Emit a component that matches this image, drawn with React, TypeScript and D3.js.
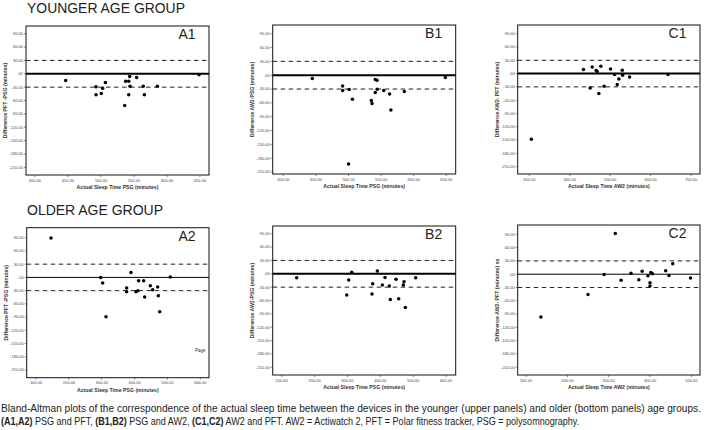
import React, { useLayoutEffect, useRef, useState } from "react";
import * as d3 from "d3";

// ---------- data ----------
const yTickValues = [90, 60, 30, 0, -30, -60, -90, -120, -150, -180, -210];
const psgTicksYoung = [400, 450, 500, 550, 600, 650];
const aw2TicksYoung = [300, 400, 500, 600, 700];
const psgTicksOld = [100, 200, 300, 400, 500, 600];
const aw2TicksOld = [100, 200, 300, 400, 500];

const a1Sleep = [446.5, 492.4, 492.4, 500.5, 502.5, 506.6, 535.9, 537.4, 542, 543.4, 544, 542, 554, 564, 565.7, 585.4, 648.5];
const a1Diff = [-15, -29.3, -47.3, -44.3, -32.3, -19.5, -71.3, -16.5, -16.5, -6, -27.8, -47.3, -8.3, -27.8, -47.3, -27.8, -2.3];

const b1Sleep = [444.5, 491, 491, 501, 506, 500, 535, 536, 541, 543.7, 541, 544, 554, 563, 565, 585.6, 648.5];
const b1Diff = [-7.2, -23.2, -33.3, -31.2, -52.2, -192.8, -55, -61.6, -9.4, -10.9, -37.7, -30.4, -33.3, -40.6, -75.4, -35.5, -5];

const c1Sleep = [305, 433.9, 450.4, 455.4, 465.3, 467.8, 471.9, 476.9, 485.1, 500.8, 510.7, 517.4, 521.5, 529.8, 530.6, 547.9, 643];
const c1Diff = [-148, 9, -32.3, 15, 6.8, 4.5, -45.1, 16.5, -28.6, 10.5, -2.3, -24.8, -12, 7.5, -3.8, -7.5, -2.3];

const a2Sleep = [145.6, 296.8, 302.8, 313, 375.9, 375.9, 389, 404.3, 410.3, 412.3, 427.5, 430.6, 447.9, 455, 470.2, 472.2, 476.3, 508.7];
const a2Diff = [89.2, 0, -12.8, -89.2, -24.2, -32.5, 11.3, -32.5, -30.2, -7.6, -7.6, -44.6, -18.9, -28, -21.9, -41.6, -77.8, 0.8];

const b2Sleep = [145.6, 297.8, 303.9, 313, 374.8, 376.9, 391.1, 406.3, 414.4, 427.6, 430.6, 447.9, 456, 470.2, 472.2, 476.3, 507.7];
const b2Diff = [-9, -47.9, -14.2, 3.7, -45.6, -22.4, 6, -25.4, -8.2, -27.7, -57.6, -12, -56.1, -25.4, -18, -75.6, -9];

const c2Sleep = [136, 250, 289, 316, 330, 354, 373, 381, 395, 400, 400, 402, 406, 438, 446, 455, 498];
const c2Diff = [-96.7, -46, -0.8, 92, -13.8, 2.3, -12.3, 6.9, -3.8, -19.2, -26.9, 3.8, 0.8, 7.7, -3.1, 23.8, -8.4];

const limitValues = [30, -30];
const meanValue = 0;

const captionLine1 =
  "Bland-Altman plots of the correspondence of the actual sleep time between the devices in the younger (upper panels) and older (bottom panels) age groups.";
const captionLine2Parts = [
  { t: "(A1,A2)", bold: true },
  { t: " PSG and PFT, ", bold: false },
  { t: "(B1,B2)", bold: true },
  { t: " PSG and AW2, ", bold: false },
  { t: "(C1,C2)", bold: true },
  { t: " AW2 and PFT. AW2 = Actiwatch 2, PFT = Polar fitness tracker, PSG = polysomnography.", bold: false },
];

// ---------- layout ----------
type Panel = {
  id: string;
  x0: number; x1: number; y0: number; y1: number;
  xDomain: [number, number];
  yDomain: [number, number];
  xTicks: number[];
  sleep: number[];
  diff: number[];
  xTitle: string;
  yTitle: string;
  meanWidth: number;
};

const panels: Panel[] = [
  { id: "A1", x0: 26, x1: 209, y0: 26, y1: 175, xDomain: [386.4, 663.6], yDomain: [-227.3, 107.3], xTicks: psgTicksYoung, sleep: a1Sleep, diff: a1Diff, xTitle: "Actual Sleep Time PSG (minutes)", yTitle: "Difference PFT -PSG (minutes)", meanWidth: 2 },
  { id: "B1", x0: 272.7, x1: 455.7, y0: 25, y1: 174, xDomain: [383.7, 664.4], yDomain: [-214.3, 108.9], xTicks: psgTicksYoung, sleep: b1Sleep, diff: b1Diff, xTitle: "Actual Sleep Time PSG (minutes)", yTitle: "Difference AW2-PSG (minutes)", meanWidth: 2 },
  { id: "C1", x0: 517.7, x1: 700, y0: 25, y1: 174, xDomain: [271.3, 722], yDomain: [-226.5, 109.6], xTicks: aw2TicksYoung, sleep: c1Sleep, diff: c1Diff, xTitle: "Actual Sleep Time AW2 (minutes)", yTitle: "Difference AW2- PFT (minutes)", meanWidth: 2 },
  { id: "A2", x0: 26.7, x1: 209, y0: 227.7, y1: 377.7, xDomain: [71.7, 626.5], yDomain: [-227.5, 112.7], xTicks: psgTicksOld, sleep: a2Sleep, diff: a2Diff, xTitle: "Actual Sleep Time PSG (minutes)", yTitle: "Difference PFT -PSG (minutes)", meanWidth: 1 },
  { id: "B2", x0: 272.7, x1: 455.7, y0: 226, y1: 375, xDomain: [72.6, 629.5], yDomain: [-227.3, 107.3], xTicks: psgTicksOld, sleep: b2Sleep, diff: b2Diff, xTitle: "Actual Sleep Time PSG (minutes)", yTitle: "Difference AW2-PSG (minutes)", meanWidth: 2 },
  { id: "C2", x0: 517.7, x1: 700, y0: 225, y1: 375, xDomain: [79.9, 521], yDomain: [-227.5, 111], xTicks: aw2TicksOld, sleep: c2Sleep, diff: c2Diff, xTitle: "Actual Sleep Time AW2 (minutes)", yTitle: "Difference AW2- PFT (minutes) ss", meanWidth: 1 },
];

const fmt = (v: number) => (v === 0 ? ".00" : v.toFixed(2));
const FONT = "Liberation Sans, Arial, sans-serif";

function PanelView({ p }: { p: Panel }) {
  const x = d3.scaleLinear().domain(p.xDomain).range([p.x0, p.x1]);
  const y = d3.scaleLinear().domain(p.yDomain).range([p.y1, p.y0]);
  const cx = (p.x0 + p.x1) / 2;
  const cy = (p.y0 + p.y1) / 2;
  return (
    <g>
      <rect x={p.x0} y={p.y0} width={p.x1 - p.x0} height={p.y1 - p.y0} fill="white" stroke="#111" strokeWidth={1} />
      {limitValues.map((v) => (
        <line key={v} x1={p.x0} x2={p.x1} y1={y(v)} y2={y(v)} stroke="#222" strokeWidth={1} strokeDasharray="4.5,3.5" />
      ))}
      <line x1={p.x0} x2={p.x1} y1={y(meanValue)} y2={y(meanValue)} stroke="#000" strokeWidth={p.meanWidth} />
      {yTickValues.map((v) => (
        <g key={v}>
          <line x1={p.x0 - 2} x2={p.x0} y1={y(v)} y2={y(v)} stroke="#333" strokeWidth={0.6} />
          <text x={p.x0 - 3} y={y(v)} dy="0.35em" textAnchor="end" fontSize={4} fill="#444" fontFamily={FONT}>{fmt(v)}</text>
        </g>
      ))}
      {p.xTicks.map((v) => (
        <g key={v}>
          <line x1={x(v)} x2={x(v)} y1={p.y1} y2={p.y1 + 2} stroke="#333" strokeWidth={0.6} />
          <text x={x(v)} y={p.y1 + 6.5} textAnchor="middle" fontSize={4} fill="#444" fontFamily={FONT}>{fmt(v)}</text>
        </g>
      ))}
      {p.sleep.map((s, i) => (
        <circle key={i} cx={x(s)} cy={y(p.diff[i])} r={1.75} fill="#000" />
      ))}
      <text x={p.x1 - 13.5} y={p.y0 + 13} textAnchor="end" fontSize={14} fontFamily={FONT} fill="#222">{p.id}</text>
      <text x={cx} y={p.y1 + 14} textAnchor="middle" fontSize={5.2} fontWeight="bold" fontFamily={FONT} fill="#333">{p.xTitle}</text>
      <text transform={`translate(${p.x0 - 19},${cy}) rotate(-90)`} textAnchor="middle" fontSize={5.2} fontWeight="bold" fontFamily={FONT} fill="#333">{p.yTitle}</text>
    </g>
  );
}

function Caption() {
  const r1 = useRef<SVGTextElement>(null);
  const r2 = useRef<SVGTextElement>(null);
  const [scales, setScales] = useState<[number, number]>([0.8, 0.8]);
  useLayoutEffect(() => {
    const w1 = r1.current ? r1.current.getBBox().width : 0;
    const w2 = r2.current ? r2.current.getBBox().width : 0;
    if (w1 > 0 && w2 > 0) setScales([700 / w1, 578 / w2]);
  }, []);
  return (
    <g>
      <g transform={`translate(1,412) scale(${scales[0]},1)`}>
        <text ref={r1} x={0} y={0} fontSize={11.5} fontFamily={FONT} fill="#222">{captionLine1}</text>
      </g>
      <g transform={`translate(1,425) scale(${scales[1]},1)`}>
        <text ref={r2} x={0} y={0} fontSize={11.5} fontFamily={FONT} fill="#222" xmlSpace="preserve">
          {captionLine2Parts.map((c, i) => (
            <tspan key={i} fontWeight={c.bold ? "bold" : "normal"}>{c.t}</tspan>
          ))}
        </text>
      </g>
    </g>
  );
}

export default function App() {
  return (
    <svg width={705} height={430} style={{ position: "absolute", left: 0, top: 0, background: "white" }}>
      <rect width={705} height={430} fill="white" />
      <text x={27} y={13} fontSize={15} fontFamily={FONT} fill="#222" textLength={158} lengthAdjust="spacingAndGlyphs">YOUNGER AGE GROUP</text>
      <text x={27} y={215} fontSize={15} fontFamily={FONT} fill="#222" textLength={136} lengthAdjust="spacingAndGlyphs">OLDER AGE GROUP</text>
      {panels.map((p) => (
        <PanelView key={p.id} p={p} />
      ))}
      <text x={195} y={352} fontSize={4.5} fontFamily={FONT} fill="#333">Page</text>
      <Caption />
    </svg>
  );
}
